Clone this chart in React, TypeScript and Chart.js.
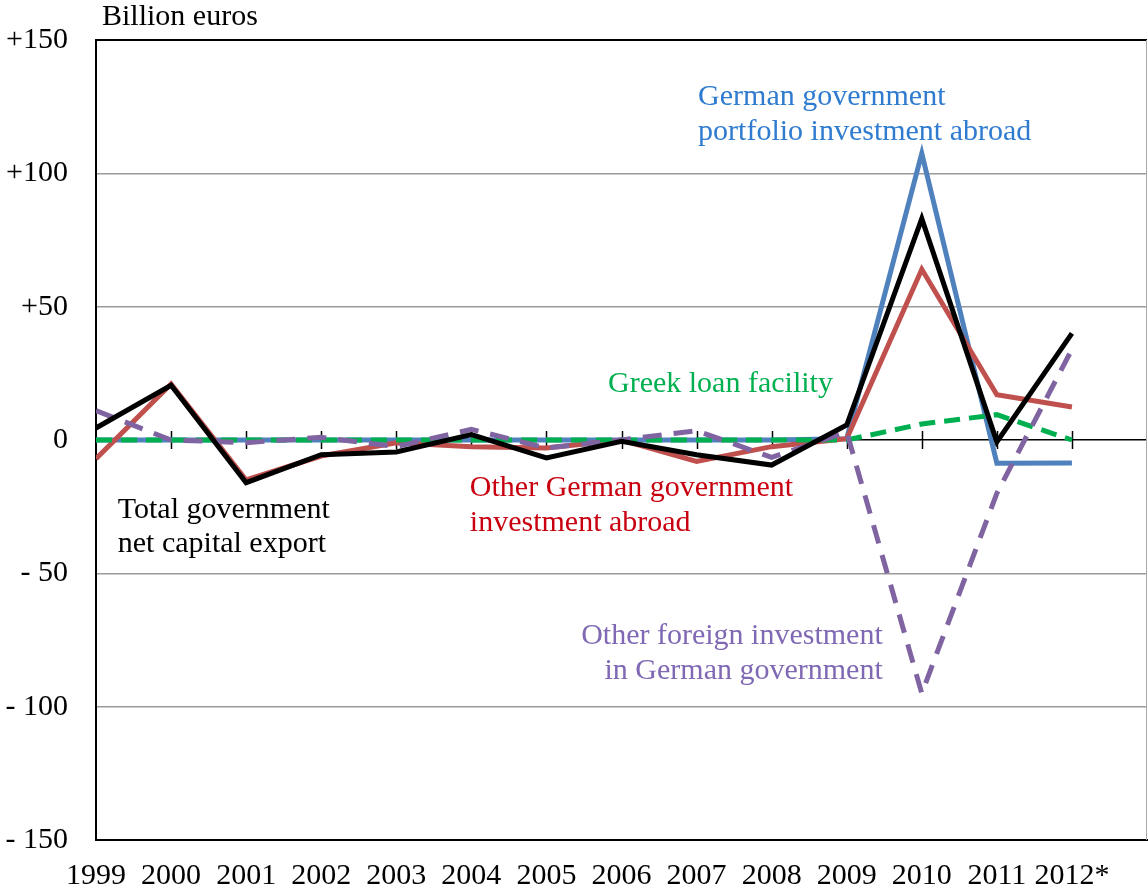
import React, { useEffect, useRef } from "react";
import { Chart, registerables } from "chart.js";

Chart.register(...registerables);

const years = [1999, 2000, 2001, 2002, 2003, 2004, 2005, 2006, 2007, 2008, 2009, 2010, 2011, 2012];
const yearLabels = ["1999", "2000", "2001", "2002", "2003", "2004", "2005", "2006", "2007", "2008", "2009", "2010", "2011", "2012*"];

const portfolioAbroad = [0, 0, 0, 0, 0, 0, 0, 0, 0, 0, 0.5, 107.5, -8.7, -8.6];
const otherGermanAbroad = [-7, 21, -15, -6, -1, -2.5, -3, 0, -8, -2.5, 0.5, 64, 17, 12.4];
const greekLoan = [0, 0, 0, 0, 0, 0, 0, 0, 0, 0, 0, 6, 9.5, 0];
const otherForeign = [11, 0, -1, 1, -2.5, 4, -3, 0, 3.5, -6.5, 3, -95, -20, 34];
const totalNet = [4.5, 20.5, -16, -5.5, -4.5, 2, -6.7, -0.5, -5.5, -9.4, 5.6, 83, -0.7, 40];

const yTicks = [-150, -100, -50, 0, 50, 100, 150];

const FONT = "'Liberation Serif', 'Times New Roman', serif";

// annotation labels: text lines, anchor year, anchor value (baseline of first line), alignment, colour
const annotations = [
  { lines: ["German government", "portfolio investment abroad"], year: 2007.02, value: 125.6, align: "left", color: "#2E7BCF" },
  { lines: ["Greek loan facility"], year: 2005.82, value: 18, align: "left", color: "#00B050" },
  { lines: ["Total government", "net capital export"], year: 1999.29, value: -29.2, align: "left", color: "#000000" },
  { lines: ["Other German government", "investment abroad"], year: 2003.98, value: -21, align: "left", color: "#C8000F" },
  { lines: ["Other foreign investment", "in German government"], year: 2009.48, value: -76.5, align: "right", color: "#7F68B4" },
];

const zeroPad = (s: any) => {
  s.paddingLeft = 0;
  s.paddingRight = 0;
  s.paddingTop = 0;
  s.paddingBottom = 0;
};

export default function App() {
  const ref = useRef<HTMLCanvasElement | null>(null);

  useEffect(() => {
    document.body.style.margin = "0";
    document.body.style.overflow = "hidden";
    const canvas = ref.current;
    if (!canvas) return;

    const pts = (arr: number[]) => arr.map((v, i) => ({ x: years[i], y: v }));

    const decor = {
      id: "decor",
      beforeDatasetsDraw(chart: any) {
        const { ctx, chartArea, scales } = chart;
        const y0 = scales.y.getPixelForValue(0);
        ctx.save();
        ctx.strokeStyle = "#000";
        ctx.lineWidth = 1.5;
        for (let i = 1; i < years.length; i++) {
          const x = Math.round(scales.x.getPixelForValue(years[i])) + 0.5;
          ctx.beginPath();
          ctx.moveTo(x, y0 - 9);
          ctx.lineTo(x, y0 + 9);
          ctx.stroke();
        }
        // right border
        ctx.strokeStyle = "#aaa";
        ctx.lineWidth = 1;
        ctx.beginPath();
        ctx.moveTo(chartArea.right - 0.5, chartArea.top);
        ctx.lineTo(chartArea.right - 0.5, chartArea.bottom);
        ctx.stroke();
        ctx.restore();
      },
      afterDraw(chart: any) {
        const { ctx, chartArea, scales } = chart;
        ctx.save();
        ctx.font = `30px ${FONT}`;
        ctx.textBaseline = "alphabetic";
        ctx.fillStyle = "#000";
        ctx.textAlign = "left";
        ctx.fillText("Billion euros", chartArea.left + 6, 25);
        for (const a of annotations) {
          const x = scales.x.getPixelForValue(a.year);
          const y = scales.y.getPixelForValue(a.value);
          ctx.fillStyle = a.color;
          ctx.textAlign = a.align as CanvasTextAlign;
          a.lines.forEach((t, i) => ctx.fillText(t, x, y + i * 34.5));
        }
        ctx.restore();
      },
    };

    const chart = new Chart(canvas, {
      type: "line",
      data: {
        datasets: [
          { label: "German government portfolio investment abroad", data: pts(portfolioAbroad), order: 4, borderColor: "#4F81BD", borderWidth: 5, pointRadius: 0, tension: 0 },
          { label: "Other German government investment abroad", data: pts(otherGermanAbroad), order: 3, borderColor: "#C0504D", borderWidth: 5, pointRadius: 0, tension: 0 },
          { label: "Greek loan facility", data: pts(greekLoan), order: 2, borderColor: "#00B050", borderWidth: 5, borderDash: [16, 9], pointRadius: 0, tension: 0 },
          { label: "Other foreign investment in German government", data: pts(otherForeign), order: 1, borderColor: "#8064A2", borderWidth: 5, borderDash: [19, 12], pointRadius: 0, tension: 0 },
          { label: "Total government net capital export", data: pts(totalNet), order: 0, borderColor: "#000000", borderWidth: 5, pointRadius: 0, tension: 0 },
        ],
      },
      options: {
        responsive: false,
        animation: false,
        devicePixelRatio: 1,
        layout: { padding: { top: 40, right: 1, left: 0, bottom: 0 } },
        plugins: { legend: { display: false }, tooltip: { enabled: false } },
        scales: {
          x: {
            type: "linear",
            min: 1999,
            max: 2013,
            afterFit: (s: any) => { s.height = 46; zeroPad(s); },
            afterBuildTicks: (s: any) => {
              s.ticks = [...years, 2013].map((v) => ({ value: v }));
            },
            ticks: {
              autoSkip: false,
              maxRotation: 0,
              padding: 10,
              color: "#000",
              font: { family: FONT, size: 30 },
              callback: (v: any) => {
                const i = years.indexOf(Number(v));
                return i >= 0 ? yearLabels[i] : "";
              },
            },
            grid: { display: false },
            border: { display: true, color: "#000", width: 2 },
          },
          y: {
            min: -150,
            max: 150,
            afterFit: (s: any) => { s.width = 96; zeroPad(s); },
            afterBuildTicks: (s: any) => {
              s.ticks = yTicks.map((v) => ({ value: v }));
            },
            ticks: {
              padding: 28,
              color: "#000",
              font: { family: FONT, size: 30 },
              callback: (v: any) => (v > 0 ? "+" + v : v < 0 ? "- " + Math.abs(v) : "0"),
            },
            grid: {
              drawTicks: false,
              color: (c: any) => (c.tick && (c.tick.value === 0 || Math.abs(c.tick.value) === 150) ? "#000" : "#9a9a9a"),
              lineWidth: (c: any) => (c.tick && Math.abs(c.tick.value) === 150 ? 2 : 1.5),
            },
            border: { display: true, color: "#000", width: 2 },
          },
        },
      },
      plugins: [decor],
    });

    return () => chart.destroy();
  }, []);

  return (
    <div style={{ position: "absolute", left: 0, top: 0, width: 1148, height: 886 }}>
      <canvas ref={ref} width={1148} height={886} style={{ width: 1148, height: 886 }} />
    </div>
  );
}
